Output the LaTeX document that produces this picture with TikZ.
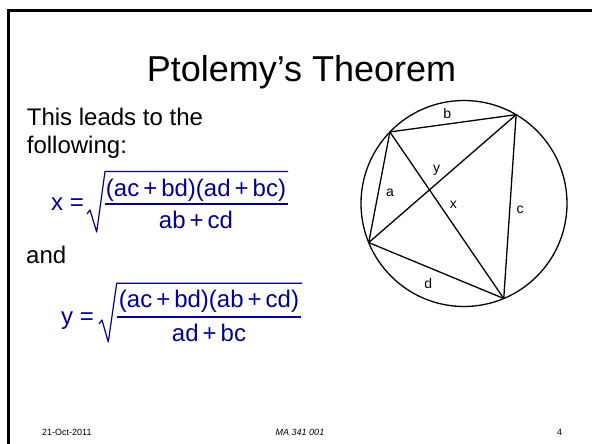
\documentclass[tikz,border=0pt]{standalone}
\usepackage{fontspec}
\setmainfont{Liberation Sans}
\usetikzlibrary{calc}
\definecolor{FormulaBlue}{RGB}{0,0,153}

\begin{document}
\begin{tikzpicture}[x=1pt,y=1pt,
  body/.style={font=\fontsize{24}{28}\selectfont,inner sep=0pt},
  formula/.style={text=FormulaBlue,font=\fontsize{24}{28}\selectfont,inner sep=0pt},
  root/.style={FormulaBlue,line width=1.2pt,line join=round},
  side/.style={font=\fontsize{14}{16}\selectfont,inner sep=0pt},
  foot/.style={font=\fontsize{9}{11}\selectfont,inner sep=0pt}]
  \useasboundingbox (0,0) rectangle (592,444);
  \draw[line width=2.8pt] (8.3,0) -- (8.3,433.7) -- (592,433.7);
  \node[font=\fontsize{36}{40}\selectfont,inner sep=0pt,anchor=base] (title) at (301.5,362.3) {Ptolemy’s Theorem};
  \node[body,anchor=base west] (intro) at (26.7,318.3) {This leads to the};
  \node[body,anchor=base west] (follow) at (26.7,290.7) {following:};
  % x = sqrt(...)
  \node[formula,anchor=base east] (xlhs) at (84,233) {x =};
  \node[formula,anchor=base] (xnum) at (196,247) {(ac\,+\,bd)(ad\,+\,bc)};
  \node[formula,anchor=base] (xden) at (196,215) {ab\,+\,cd};
  \draw[root] (87,230) -- (90,234) -- (96.7,212) -- (105,272.5) -- (288,272.5);
  \draw[root] (105,240) -- (288,240);
  \node[body,anchor=base west] (and) at (26,180) {and};
  % y = sqrt(...)
  \node[formula,anchor=base east] (ylhs) at (94,119) {y =};
  \node[formula,anchor=base] (ynum) at (209,136) {(ac\,+\,bd)(ab\,+\,cd)};
  \node[formula,anchor=base] (yden) at (209,102) {ad\,+\,bc};
  \draw[root] (99,120) -- (102,124) -- (108.3,102) -- (116.7,160.7) -- (302,160.7);
  \draw[root] (117,127) -- (301,127);
  % circle with the inscribed quadrilateral
  \coordinate (O) at (464,240.5);
  \draw[line width=1.3pt] (O) circle (103);
  \coordinate (A) at ($(O)+(136:103)$);
  \coordinate (B) at ($(O)+(59.6:103)$);
  \coordinate (C) at ($(O)+(-67.3:103)$);
  \coordinate (D) at ($(O)+(202.3:103)$);
  \draw[line width=1.3pt,line join=round] (A) -- (B) -- (C) -- (D) -- cycle;
  \draw[line width=1.3pt] (A) -- (C);
  \draw[line width=1.3pt] (B) -- (D);
  \node[side] (la) at (390,250.7) {a};
  \node[side] (lb) at (447.3,330.7) {b};
  \node[side] (lc) at (520,234) {c};
  \node[side] (ld) at (428.3,160.7) {d};
  \node[side] (lx) at (453.3,239) {x};
  \node[side] (ly) at (436.7,274) {y};
  % footer
  \node[foot,anchor=base west] (date) at (42,8.5) {21-Oct-2011};
  \node[foot,anchor=base] (course) at (300,8.5) {\itshape MA 341 001};
  \node[foot,anchor=base east] (page) at (562.3,8.5) {4};
\end{tikzpicture}
\end{document}
